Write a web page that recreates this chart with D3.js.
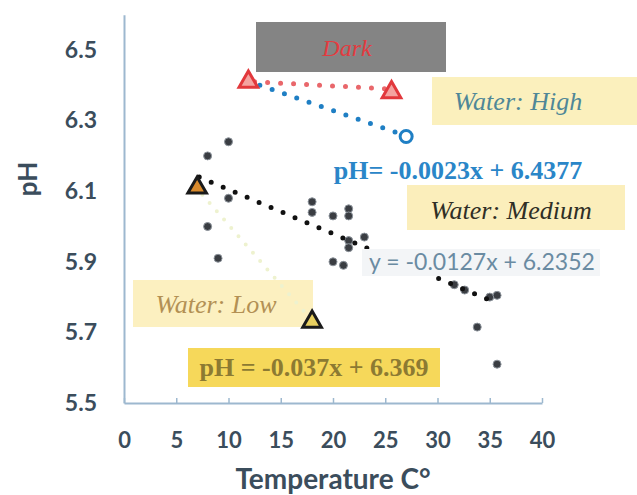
<!DOCTYPE html>
<html>
<head>
<meta charset="utf-8">
<script src="https://cdn.jsdelivr.net/npm/d3@7"></script>
<style>
  body { margin: 0; background: #fff; }
  svg { display: block; }
</style>
</head>
<body>
<svg id="chart" width="637" height="495"></svg>
<script>
// medium water scatter (temperature, pH)
const mediumTemp = [8, 10, 8, 9, 10, 18, 18, 20, 21.5, 21.5, 23, 21.5, 21.5, 20, 21, 31.6, 32.6, 35, 35.7, 33.8, 35.7];
const mediumPh = [6.20, 6.24, 6.00, 5.91, 6.08, 6.07, 6.04, 6.03, 6.05, 6.03, 5.97, 5.96, 5.94, 5.90, 5.89, 5.835, 5.82, 5.80, 5.805, 5.715, 5.61];

// trend line end points
const mediumLine = [[7.2, 6.14], [35.5, 5.785]];
const highLine = [[13, 6.40], [26.2, 6.265]];
const darkLine = [[12.5, 6.41], [25.2, 6.39]];
const lowLine = [[7.5, 6.09], [17.5, 5.75]];

// special markers
const darkTriangles = [[11.9, 6.41], [25.6, 6.38]];
const lowTriangles = [[7, 6.11], [18, 5.73]];
const highCircle = [[27, 6.255]];

const xTicks = [0, 5, 10, 15, 20, 25, 30, 35, 40];
const yTicks = [5.5, 5.7, 5.9, 6.1, 6.3, 6.5];

const svg = d3.select("#chart");
const x = d3.scaleLinear().domain([0, 40]).range([124, 542]);
const y = d3.scaleLinear().domain([5.5, 6.6]).range([403, 14.7]);

const axisColor = "#9db8cf";
const labelColor = "#3b4d5c";
const sans = "Lato, 'Open Sans', sans-serif";
const serif = "'Liberation Serif', 'DejaVu Serif', serif";

function font(sel, family, size, weight, style) {
  sel.attr("font-family", family)
    .attr("font-size", size)
    .attr("font-weight", weight || "normal")
    .attr("font-style", style || "normal");
}

// axes
const xAxis = svg.append("g")
  .attr("transform", `translate(0, ${y(5.5)})`)
  .call(d3.axisBottom(x).tickValues(xTicks).tickSize(-5).tickPadding(29).tickSizeOuter(0));
xAxis.select(".domain").attr("stroke", axisColor).attr("stroke-width", 2);
xAxis.selectAll(".tick line").attr("stroke", axisColor).attr("stroke-width", 1.5);
xAxis.selectAll(".tick text").attr("fill", labelColor).call(font, sans, 22, "bold");

const yAxis = svg.append("g")
  .attr("transform", `translate(${x(0)}, 0)`)
  .call(d3.axisLeft(y).tickValues(yTicks).tickFormat(d3.format(".1f")).tickSize(0).tickPadding(27).tickSizeOuter(0));
yAxis.select(".domain").attr("stroke", axisColor).attr("stroke-width", 2);
yAxis.selectAll(".tick text").attr("fill", labelColor).call(font, sans, 23, "bold");

svg.append("text")
  .attr("transform", "translate(37, 179) rotate(-90)")
  .attr("text-anchor", "middle")
  .attr("fill", labelColor)
  .call(font, sans, 26, "bold")
  .text("pH");

svg.append("text")
  .attr("x", 333).attr("y", 489)
  .attr("text-anchor", "middle")
  .attr("fill", labelColor)
  .call(font, sans, 28, "bold")
  .text("Temperature C°");

// annotation boxes
const boxes = [
  { x: 256, y: 22, w: 190, h: 50, fill: "#848484" },
  { x: 432, y: 77, w: 205, h: 48, fill: "#fbf0bd" },
  { x: 407, y: 185, w: 218, h: 45, fill: "#fbeebb" },
  { x: 133, y: 280, w: 180, h: 47, fill: "#fcf0c0" },
  { x: 188, y: 348, w: 252, h: 39, fill: "#f6d85a" },
];
svg.selectAll("rect.box").data(boxes).enter().append("rect")
  .attr("class", "box")
  .attr("x", d => d.x).attr("y", d => d.y)
  .attr("width", d => d.w).attr("height", d => d.h)
  .attr("fill", d => d.fill);

// trend lines (dotted)
const line = d3.line().x(d => x(d[0])).y(d => y(d[1]));
function dotted(data, color, width, gap) {
  svg.append("path")
    .attr("d", line(data))
    .attr("fill", "none")
    .attr("stroke", color)
    .attr("stroke-width", width)
    .attr("stroke-linecap", "round")
    .attr("stroke-dasharray", `0 ${gap}`);
}
dotted(lowLine, "#eef2cf", 4, 11);
dotted(darkLine, "#e9676b", 5, 13);
dotted(highLine, "#1f7fc4", 5, 13);

// medium scatter
svg.selectAll("circle.med")
  .data(mediumTemp.map((t, i) => [t, mediumPh[i]]))
  .enter().append("circle")
  .attr("class", "med")
  .attr("cx", d => x(d[0])).attr("cy", d => y(d[1]))
  .attr("r", 4)
  .attr("fill", "#3a3d42")
  .attr("stroke", "#8d949c")
  .attr("stroke-width", 1);

dotted(mediumLine, "#111", 5, 13);

// equation label box sits over the medium trend line
svg.append("rect")
  .attr("x", 362).attr("y", 249)
  .attr("width", 238).attr("height", 27)
  .attr("fill", "#f3f5f7");

// triangles
const tri = d3.symbol().type(d3.symbolTriangle).size(150);
svg.selectAll("path.dark").data(darkTriangles).enter().append("path")
  .attr("class", "dark")
  .attr("d", tri)
  .attr("transform", d => `translate(${x(d[0])}, ${y(d[1])})`)
  .attr("fill", "#f4a3a0")
  .attr("stroke", "#e2383c")
  .attr("stroke-width", 3);
svg.selectAll("path.low").data(lowTriangles).enter().append("path")
  .attr("class", "low")
  .attr("d", tri)
  .attr("transform", d => `translate(${x(d[0])}, ${y(d[1])})`)
  .attr("fill", (d, i) => i === 0 ? "#d98a2c" : "#e8d060")
  .attr("stroke", "#1a1a1a")
  .attr("stroke-width", 3);
svg.selectAll("circle.high").data(highCircle).enter().append("circle")
  .attr("class", "high")
  .attr("cx", d => x(d[0])).attr("cy", d => y(d[1]))
  .attr("r", 6)
  .attr("fill", "#fff")
  .attr("stroke", "#1f7fc4")
  .attr("stroke-width", 3);

// labels
const labels = [
  { text: "Dark", x: 347, y: 56, color: "#e23b40", family: serif, size: 24, weight: "normal", style: "italic" },
  { text: "Water: High", x: 518, y: 110, color: "#4f8797", family: serif, size: 26, weight: "normal", style: "italic" },
  { text: "pH= -0.0023x + 6.4377", x: 458, y: 179, color: "#2a86c8", family: serif, size: 26, weight: "bold", style: "normal" },
  { text: "Water: Medium", x: 511, y: 219, color: "#2f2f26", family: serif, size: 26, weight: "normal", style: "italic" },
  { text: "y = -0.0127x + 6.2352", x: 482, y: 270, color: "#6a8ba2", family: sans, size: 23, weight: "normal", style: "normal" },
  { text: "Water: Low", x: 216, y: 313, color: "#b39054", family: serif, size: 26, weight: "normal", style: "italic" },
  { text: "pH = -0.037x + 6.369", x: 314, y: 376, color: "#8c7a32", family: serif, size: 26, weight: "bold", style: "normal" },
];
svg.selectAll("text.lab").data(labels).enter().append("text")
  .attr("class", "lab")
  .attr("x", d => d.x).attr("y", d => d.y)
  .attr("text-anchor", "middle")
  .attr("fill", d => d.color)
  .attr("font-family", d => d.family)
  .attr("font-size", d => d.size)
  .attr("font-weight", d => d.weight)
  .attr("font-style", d => d.style)
  .text(d => d.text);
</script>
</body>
</html>
